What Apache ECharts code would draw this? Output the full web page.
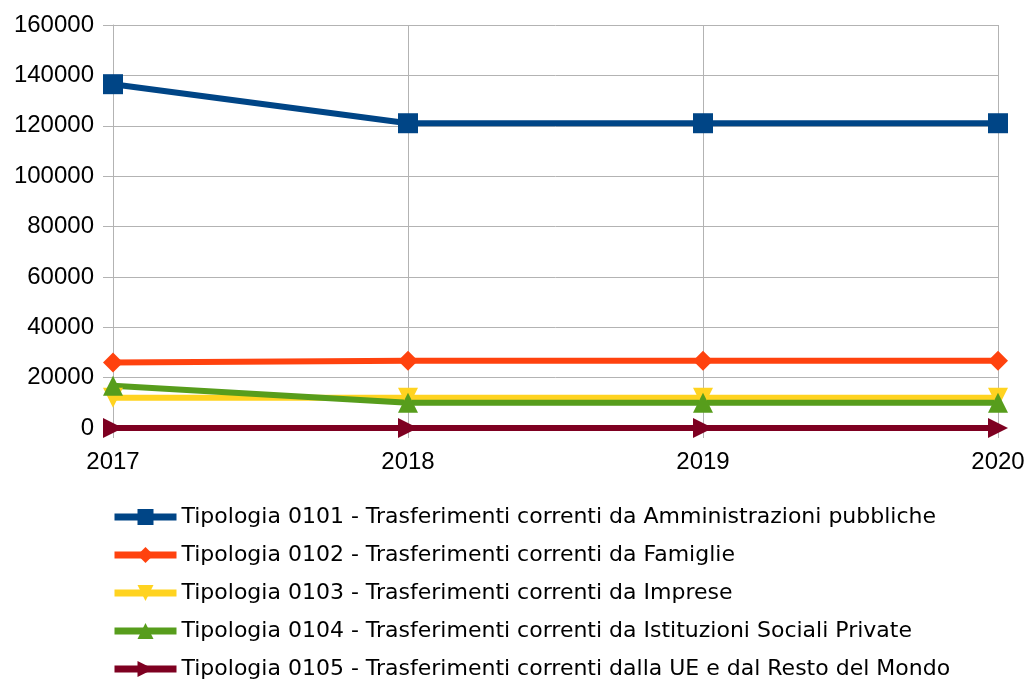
<!DOCTYPE html>
<html><head><meta charset="utf-8">
<script src="https://cdn.jsdelivr.net/npm/echarts@6/dist/echarts.min.js"></script>
<style>html,body{margin:0;padding:0;background:#fff}#c{width:1029px;height:680px}</style>
</head><body><div id="c"></div>
<script>
const categories = ['2017','2018','2019','2020'];
const seriesNames = [
  'Tipologia 0101 - Trasferimenti correnti da Amministrazioni pubbliche',
  'Tipologia 0102 - Trasferimenti correnti da Famiglie',
  'Tipologia 0103 - Trasferimenti correnti da Imprese',
  'Tipologia 0104 - Trasferimenti correnti da Istituzioni Sociali Private',
  'Tipologia 0105 - Trasferimenti correnti dalla UE e dal Resto del Mondo'
];
const tip0101 = [136500, 121000, 121000, 121000];
const tip0102 = [26000, 26700, 26700, 26700];
const tip0103 = [12000, 12000, 12000, 12000];
const tip0104 = [16800, 10000, 10000, 10000];
const tip0105 = [0, 0, 0, 0];
const yTicks = [0, 20000, 40000, 60000, 80000, 100000, 120000, 140000, 160000];

const colors = ['#004586','#ff420e','#ffd320','#579d1c','#7e0021'];
const symbols = ['rect','diamond','triangle','triangle','triangle'];
const rotates = [0,0,180,0,-90];
const sizes = [20,20,20,20,20];
const data = [tip0101, tip0102, tip0103, tip0104, tip0105];

const chart = echarts.init(document.getElementById('c'));
chart.setOption({
  animation:false,
  color: colors,
  grid:{left:113,right:31,top:25,bottom:252,containLabel:false},
  xAxis:{type:'category',data:categories,boundaryGap:false,
    axisLine:{lineStyle:{color:'#b3b3b3',width:1}},
    axisTick:{show:true,length:10,lineStyle:{color:'#b3b3b3'}},
    splitLine:{show:true,lineStyle:{color:'#b3b3b3',width:1}},
    axisLabel:{color:'#000',fontFamily:'Liberation Sans',fontSize:24,margin:22}
  },
  yAxis:{type:'value',min:0,max:yTicks[yTicks.length-1],interval:yTicks[1]-yTicks[0],
    axisLine:{show:true,lineStyle:{color:'#b3b3b3',width:1}},
    axisTick:{show:true,length:10,lineStyle:{color:'#b3b3b3'}},
    splitLine:{show:true,lineStyle:{color:'#b3b3b3',width:1}},
    axisLabel:{color:'#000',fontFamily:'Liberation Sans',fontSize:24,margin:19,
      formatter:v=>String(v)}
  },
  legend:{orient:'vertical',left:111,bottom:0,padding:0,itemWidth:62,itemHeight:20,itemGap:16,
    textStyle:{fontFamily:'DejaVu Sans',fontSize:22,color:'#000',lineHeight:20},
    lineStyle:{width:7},
    data:seriesNames},
  series: seriesNames.map((n,i)=>({
    name:n,type:'line',data:data[i],
    symbol:symbols[i],symbolSize:sizes[i],symbolRotate:rotates[i],showAllSymbol:true,
    lineStyle:{width:6,color:colors[i]},itemStyle:{color:colors[i]}
  }))
});
</script></body></html>
